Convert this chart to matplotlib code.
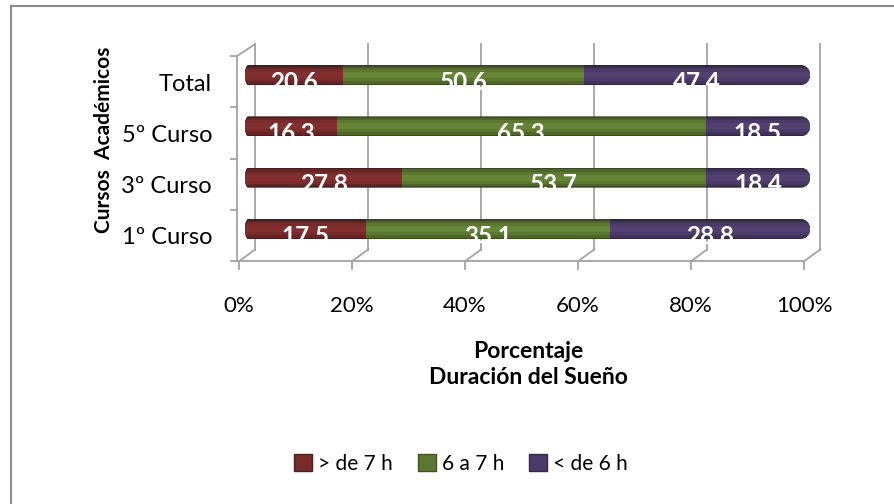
import numpy as np
import matplotlib.pyplot as plt
from matplotlib.patches import Patch, PathPatch
from matplotlib.path import Path
from matplotlib.lines import Line2D
from matplotlib.colors import to_rgb

plt.rcParams['font.family'] = ['Lato', 'DejaVu Sans']

# data (as printed on the chart)
cursos = ['1º Curso', '3º Curso', '5º Curso', 'Total']
mas_7h = [17.5, 27.8, 16.3, 20.6]
de_6_7h = [35.1, 53.7, 65.3, 50.6]
menos_6h = [28.8, 18.4, 18.5, 47.4]
series_names = ['> de 7 h', '6 a 7 h', '< de 6 h']
colores = ['#772b2b', '#5c7830', '#4b3b68']
ticks_pct = [0, 20, 40, 60, 80, 100]

W, H = 895, 504
PXX = 5.65    # pixels per percent
PXY = 51.33   # pixels per category
X0, Y0 = 245, 275   # pixel position of (0%, first category)

fig = plt.figure(figsize=(W / 100, H / 100), dpi=100)
ax = fig.add_axes([0, 0, 1, 1])
ax.set_xlim(-X0 / PXX, (W - X0) / PXX)
ax.set_ylim(-Y0 / PXY, (H - Y0) / PXY)
ax.axis('off')

# pseudo 3d walls
front_dx, back_dx = -6 / PXX, 10 / PXX
front_dy, back_dy = -0.13, 0.10
y_bot, y_top = -0.5, len(cursos) - 0.5
grid_c = '#a3a3a3'
for p in ticks_pct:
    ax.plot([p + back_dx] * 2, [y_bot + back_dy, y_top + back_dy], color=grid_c, lw=1.3, zorder=1)
    ax.plot([p + front_dx, p + back_dx], [y_bot + front_dy, y_bot + back_dy], color=grid_c, lw=1.3, zorder=1)
    ax.plot([p + front_dx] * 2, [y_bot + front_dy, y_bot + front_dy - 8 / PXY], color=grid_c, lw=1.3, zorder=1)
    ax.text(p + front_dx, y_bot + front_dy - 45 / PXY, '%d%%' % p, ha='center', va='center', fontsize=16)
# bottom edge and left wall
ax.plot([front_dx, 100 + front_dx], [y_bot + front_dy] * 2, color=grid_c, lw=1.3, zorder=1)
ax.plot([front_dx - 2 / PXX] * 2, [y_bot + front_dy, y_top + front_dy], color=grid_c, lw=1.3, zorder=1)
ax.plot([front_dx - 2 / PXX, back_dx], [y_top + front_dy, y_top + back_dy], color=grid_c, lw=1.3, zorder=1)
for k in np.arange(y_bot, y_top + 0.5):
    ax.plot([front_dx - 8 / PXX, front_dx - 2 / PXX], [k + front_dy] * 2, color=grid_c, lw=1.3, zorder=1)

# normalise to 100 %
vals = np.array([mas_7h, de_6_7h, menos_6h], dtype=float)
pct = vals / vals.sum(axis=0) * 100
y = np.arange(len(cursos))
bar_h = 20 / PXY


def capsule(yc, h):
    rx = 9 / PXX
    rl = 3 / PXX
    t = np.linspace(-np.pi / 2, np.pi / 2, 40)
    xs = np.r_[100 - rx + rx * np.cos(t), rl - rl * np.cos(t[::-1])]
    ys = np.r_[yc + h / 2 * np.sin(t), yc + h / 2 * np.sin(t[::-1])]
    verts = np.column_stack([xs, ys])
    return PathPatch(Path(np.vstack([verts, verts[:1]]), closed=True), transform=ax.transData)


def shade(c, f):
    r = np.array(to_rgb(c)) * f
    return tuple(np.clip(r, 0, 1))


clips = [capsule(yi, bar_h) for yi in y]
left = np.zeros(len(cursos))
for s in range(3):
    layers = [(1.0, 0.62), (0.85, 0.85), (0.6, 1.0), (0.3, 1.1)]
    for frac, f in layers:
        bars = ax.barh(y, pct[s], left=left, height=bar_h * frac, color=shade(colores[s], f),
                       linewidth=0, zorder=2)
        for b, cp in zip(bars, clips):
            b.set_clip_path(cp)
    for i in range(len(cursos)):
        ax.text(left[i] + pct[s][i] / 2, y[i] - 7 / PXY, '%.1f' % vals[s][i], color='white',
                fontsize=17.5, fontweight='bold', ha='center', va='center', zorder=4)
    left += pct[s]

# category labels
for i, c in enumerate(cursos):
    ax.text(-33 / PXX, y[i] - 9 / PXY, c, ha='right', va='center', fontsize=17)

# axis titles
fig.text(528 / W, 1 - 352 / H, 'Porcentaje', ha='center', va='center', fontsize=16.5, fontweight='bold')
fig.text(528 / W, 1 - 377 / H, 'Duración del Sueño', ha='center', va='center', fontsize=16.5, fontweight='bold')
fig.text(104 / W, 1 - 140 / H, 'Cursos  Académicos', ha='center', va='center', rotation=90,
         fontsize=15, fontweight='bold')

# legend
handles = [Patch(facecolor=colores[s], edgecolor=shade(colores[s], 0.7)) for s in range(3)]
fig.legend(handles, series_names, loc='center', bbox_to_anchor=(461 / W, 1 - 464 / H), ncol=3,
           frameon=False, fontsize=15, handlelength=0.85, handleheight=0.85, handletextpad=0.3,
           columnspacing=1.2)

# chart border (only top and left are inside the picture)
fig.add_artist(Line2D([11 / W, 1], [1 - 6 / H] * 2, color='#8a8a8a', lw=1.5))
fig.add_artist(Line2D([11 / W] * 2, [0, 1 - 6 / H], color='#8a8a8a', lw=1.5))

fig.savefig('out.png', dpi=100)
